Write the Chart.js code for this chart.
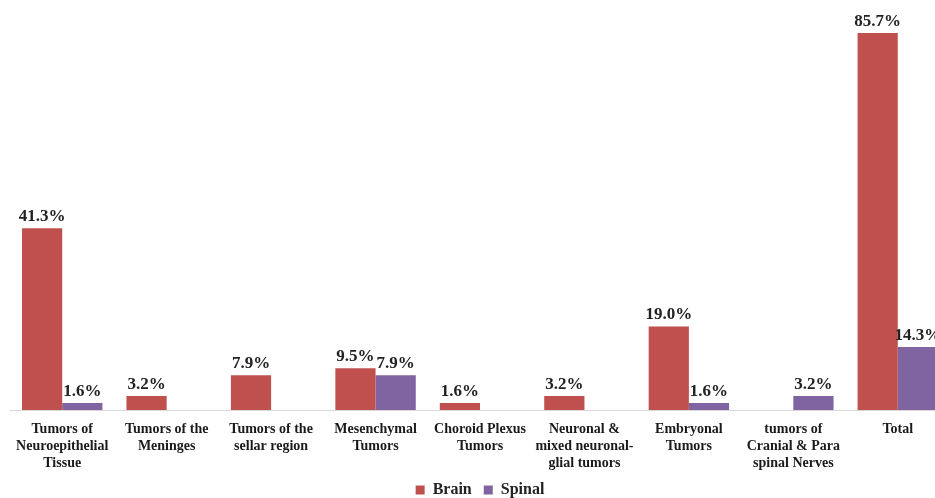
<!DOCTYPE html>
<html>
<head>
    <title>Brain and Spinal Tumors</title>
    <script src="https://cdn.jsdelivr.net/npm/chart.js"></script>
    <style>
        html, body { margin: 0; padding: 0; background: #fff; overflow: hidden; }
        #wrap { width: 950px; height: 498px; }
    </style>
</head>
<body>
<div id="wrap">
    <canvas id="tumorChart" width="950" height="498"></canvas>
</div>

<script>
    const categories = [
        ["Tumors of", "Neuroepithelial", "Tissue"],
        ["Tumors of the", "Meninges"],
        ["Tumors of the", "sellar region"],
        ["Mesenchymal", "Tumors"],
        ["Choroid Plexus", "Tumors"],
        ["Neuronal &", "mixed neuronal-", "glial tumors"],
        ["Embryonal", "Tumors"],
        ["tumors of", "Cranial & Para", "spinal Nerves"],
        ["Total"]
    ];
    const brainValues = [41.3, 3.2, 7.9, 9.5, 1.6, 3.2, 19.0, null, 85.7];
    const spinalValues = [1.6, null, null, 7.9, null, null, 1.6, 3.2, 14.3];

    const serif = "'Liberation Serif', 'Times New Roman', serif";

    // writes the percentage above each bar
    const valueLabels = {
        id: 'valueLabels',
        afterDatasetsDraw(chart) {
            const ctx = chart.ctx;
            ctx.save();
            ctx.font = "bold 17px " + serif;
            ctx.fillStyle = '#222';
            ctx.textAlign = 'center';
            ctx.textBaseline = 'bottom';
            chart.data.datasets.forEach((ds, i) => {
                chart.getDatasetMeta(i).data.forEach((bar, j) => {
                    const v = ds.data[j];
                    if (v === null) return;
                    ctx.fillText(v.toFixed(1) + '%', bar.x, bar.y - 3);
                });
            });
            ctx.restore();
        }
    };

    new Chart(document.getElementById('tumorChart'), {
        type: 'bar',
        data: {
            labels: categories,
            datasets: [{
                label: 'Brain',
                data: brainValues,
                backgroundColor: '#C0504D'
            }, {
                label: 'Spinal',
                data: spinalValues,
                backgroundColor: '#8064A2'
            }]
        },
        options: {
            responsive: false,
            animation: false,
            datasets: {
                bar: { categoryPercentage: 0.77, barPercentage: 1.0 }
            },
            layout: { padding: { left: 10, right: 0, top: 0, bottom: -10 } },
            scales: {
                x: {
                    grid: { display: false },
                    border: { color: '#d9d9d9', width: 1 },
                    ticks: {
                        padding: 3,
                        maxRotation: 0,
                        autoSkip: false,
                        color: '#1a1a1a',
                        font: { family: serif, size: 14, weight: 'bold', lineHeight: 1.22 }
                    },
                    afterFit(scale) { scale.height = 60; }
                },
                y: {
                    display: false,
                    min: 0,
                    max: 93.2
                }
            },
            plugins: {
                legend: {
                    position: 'bottom',
                    labels: {
                        boxWidth: 9,
                        boxHeight: 9,
                        padding: 12,
                        color: '#222',
                        font: { family: serif, size: 16, weight: 'bold' }
                    }
                },
                tooltip: { enabled: false }
            }
        },
        plugins: [valueLabels]
    });
</script>
</body>
</html>
